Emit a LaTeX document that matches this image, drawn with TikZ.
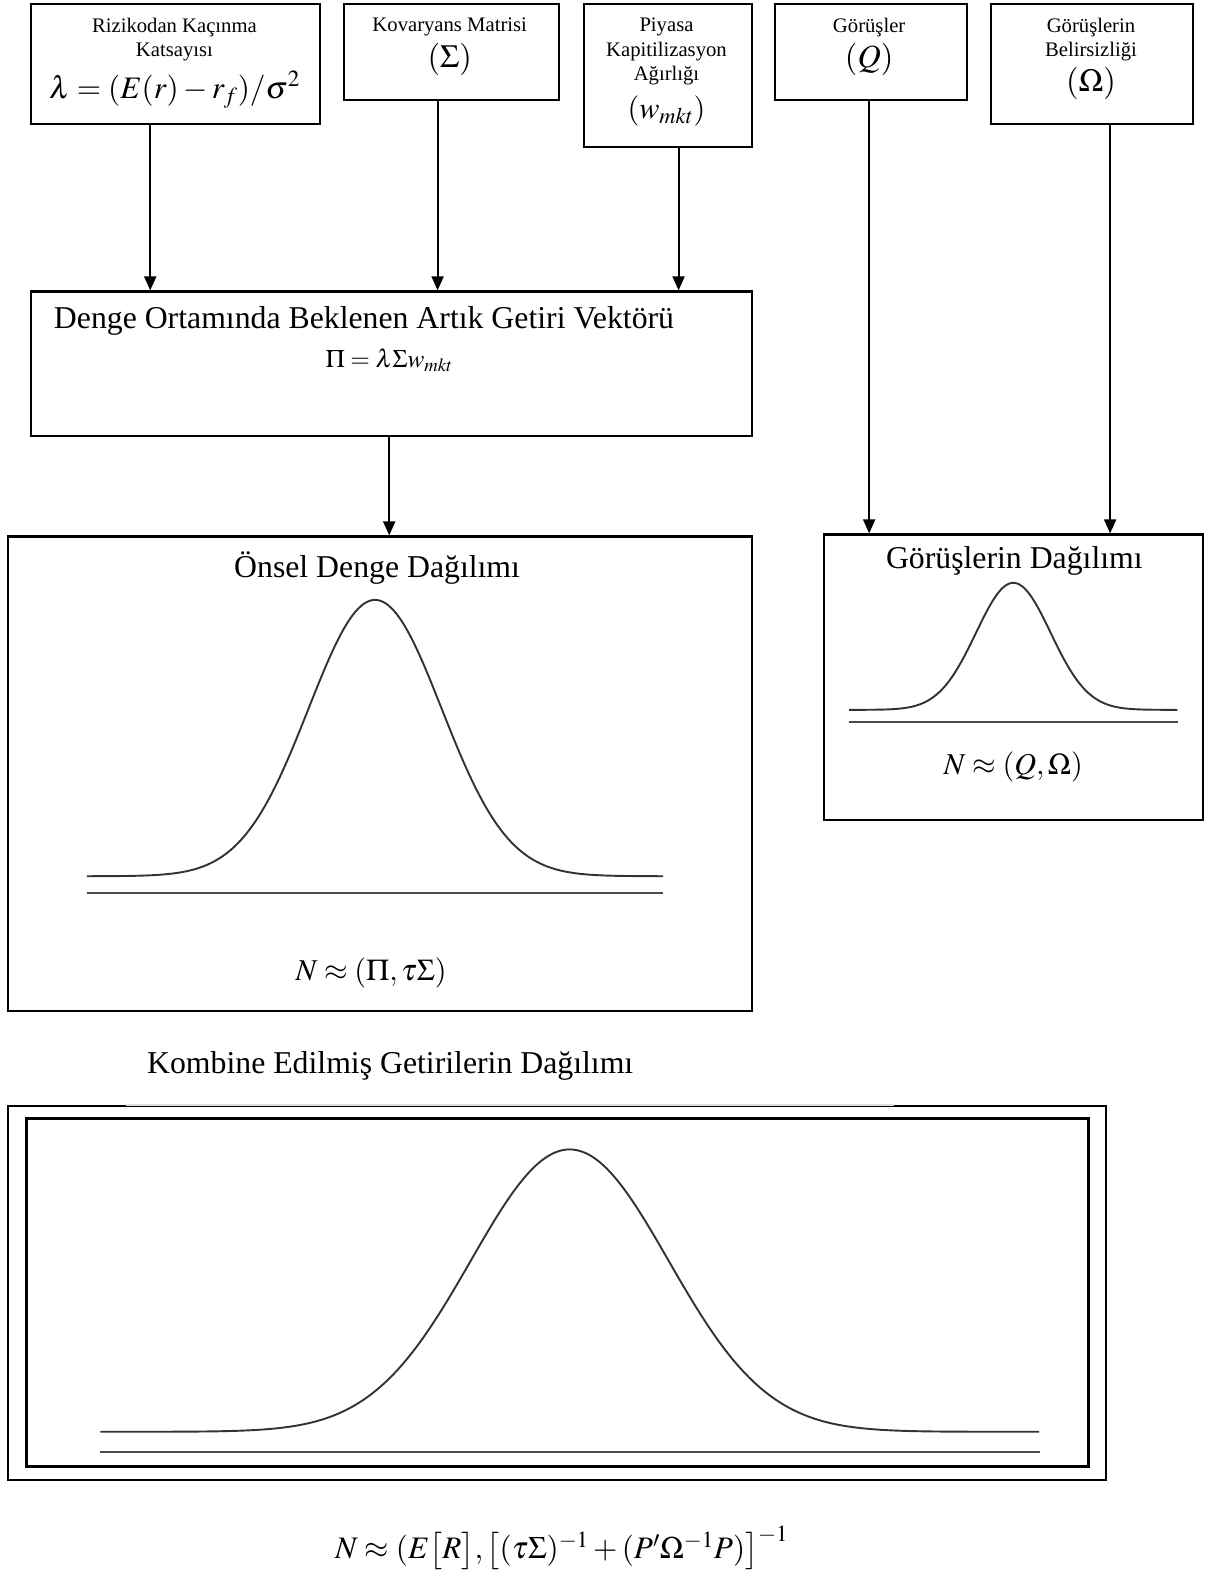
\documentclass[tikz,border=0pt]{standalone}
\usepackage{mathptmx}
\usepackage{fontspec}
\setmainfont{Liberation Serif}
\usetikzlibrary{arrows.meta}

\begin{document}
\begin{tikzpicture}[x=1pt,y=-1pt,
  box/.style={draw,line width=2.1pt,anchor=north west,inner sep=0},
  lbl/.style={inner sep=0,align=center,font=\fontsize{20.5}{24}\selectfont},
  big/.style={inner sep=0,font=\fontsize{31.5}{36}\selectfont},
  eq/.style={inner sep=0,font=\fontsize{30}{34}\selectfont},
  arr/.style={line width=1.9pt,-{Triangle[length=14pt,width=12pt]}},
  bell/.style={line width=1.9pt,black!80},
  axis/.style={line width=2.2pt,black!70}]
\useasboundingbox (0,0) rectangle (1200,1568);

\node[box,minimum width=286pt,minimum height=119pt] (risk) at (30,3) {};
\node[box,minimum width=213pt,minimum height=95pt] (kov) at (340,3) {};
\node[box,minimum width=167pt,minimum height=142pt] (piyasa) at (578,3) {};
\node[box,minimum width=190pt,minimum height=95pt] (gorus) at (768,3) {};
\node[box,minimum width=200pt,minimum height=119pt] (belirs) at (982,3) {};
\node[box,minimum width=715pt,minimum height=143pt] (denge) at (30,288) {};
\node[box,minimum width=738pt,minimum height=471pt] (onsel) at (7,531) {};
\node[box,minimum width=376pt,minimum height=283pt] (gorusdag) at (816,529) {};
\node[box,line width=1.5pt,minimum width=1089pt,minimum height=371pt] (kombdis) at (7,1096) {};
\node[box,line width=2.8pt,minimum width=1053pt,minimum height=345pt] (kombic) at (25,1108) {};
\draw[gray!25,line width=2pt] (125,1096) -- (887,1096);

\node[lbl] (riskyazi) at (173,39) {Rizikodan Kaçınma\\Katsayısı};
\node[eq,font=\fontsize{31}{34}\selectfont] (riskform) at (173,89) {$\lambda=(E(r)-r_f)/\sigma^2$};
\node[lbl] (kovyazi) at (446,27) {Kovaryans Matrisi};
\node[eq,font=\fontsize{32}{36}\selectfont] (kovform) at (446,59) {$(\Sigma)$};
\node[lbl] (piyasayazi) at (661,51) {Piyasa\\Kapitilizasyon\\Ağırlığı};
\node[eq] (piyasaform) at (661,110) {$(w_{mkt})$};
\node[lbl] (gorusyazi) at (862,27) {Görüşler};
\node[eq,font=\fontsize{32}{36}\selectfont] (gorusform) at (862,59) {$(Q)$};
\node[lbl] (belirsyazi) at (1082,39) {Görüşlerin\\Belirsizliği};
\node[eq,font=\fontsize{32}{36}\selectfont] (belirsform) at (1082,83) {$(\Omega)$};

\node[big] (dengeyazi) at (361,318) {Denge Ortamında Beklenen Artık Getiri Vektörü};
\node[eq,font=\fontsize{25}{28}\selectfont] (dengeform) at (386,357) {$\Pi=\lambda\Sigma w_{mkt}$};

\node[big] (onselyazi) at (374,563) {Önsel Denge Dağılımı};
\draw[bell] plot[domain=-4.33:4.33,samples=120,smooth] ({372+66*\x},{869-274*exp(-\x*\x/2)});
\draw[axis] (86,886) -- (658,886);
\node[eq] (onselform) at (368,965) {$N\approx(\Pi,\tau\Sigma)$};

\node[big] (gorusdagyazi) at (1006,556) {Görüşlerin Dağılımı};
\draw[bell] plot[domain=-4.4:4.4,samples=100,smooth] ({1005+37*\x},{704-126*exp(-\x*\x/2)});
\draw[axis] (842,716) -- (1168,716);
\node[eq] (gorusdagform) at (1005,761) {$N\approx(Q,\Omega)$};

\node[big] (kombyazi) at (387,1057) {Kombine Edilmiş Getirilerin Dağılımı};
\draw[bell] plot[domain=-4.75:4.75,samples=140,smooth] ({565+98*\x},{1420-280*exp(-\x*\x/2)});
\draw[axis] (99,1440) -- (1031,1440);
\node[eq,font=\fontsize{31}{34}\selectfont] (kombform) at (557,1535)
  {$N\approx(E\bigl[R\bigr],\bigl[(\tau\Sigma)^{-1}+(P'\Omega^{-1}P)\bigr]^{-1}$};

\coordinate (ca) at (149,0);
\coordinate (cb) at (434,0);
\coordinate (cc) at (673,0);
\coordinate (cd) at (862,0);
\coordinate (ce) at (1101,0);
\coordinate (cf) at (386,0);
\draw[arr] (risk.south -| ca) -- (denge.north -| ca);
\draw[arr] (kov.south -| cb) -- (denge.north -| cb);
\draw[arr] (piyasa.south -| cc) -- (denge.north -| cc);
\draw[arr] (gorus.south -| cd) -- (gorusdag.north -| cd);
\draw[arr] (belirs.south -| ce) -- (gorusdag.north -| ce);
\draw[arr] (denge.south -| cf) -- (onsel.north -| cf);
\end{tikzpicture}
\end{document}
